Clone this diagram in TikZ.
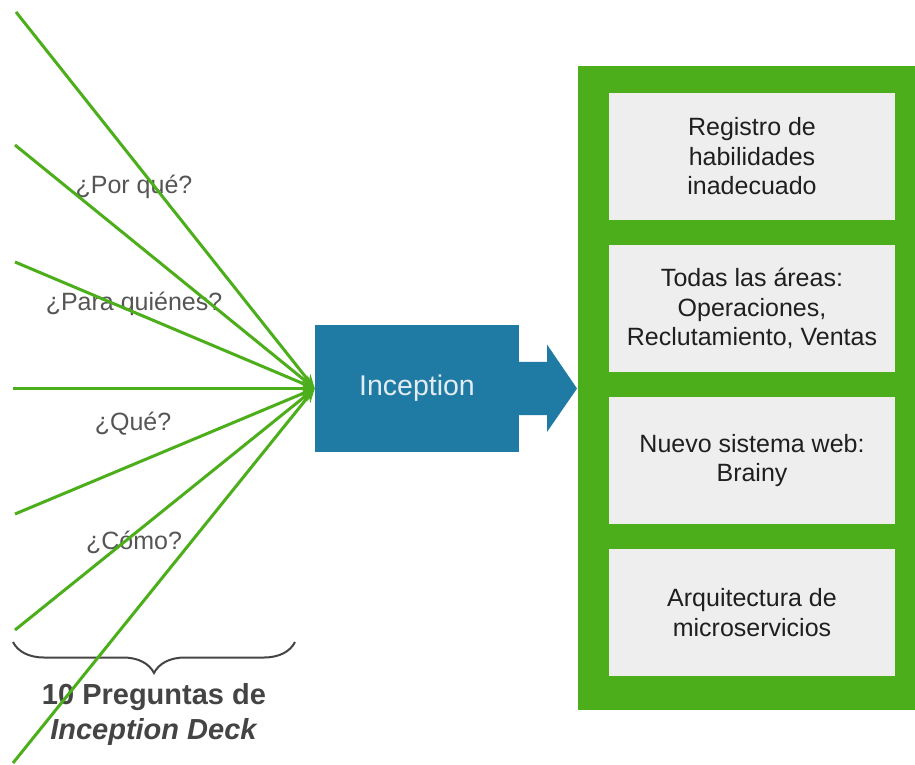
\documentclass[tikz,border=0pt]{standalone}
\usepackage{fontspec}
\setmainfont{Liberation Sans}
\usetikzlibrary{arrows.meta,decorations.pathreplacing}
\definecolor{lgreen}{RGB}{76,174,26}
\definecolor{iblue}{RGB}{31,123,164}
\definecolor{boxgray}{RGB}{238,238,238}
\definecolor{labgray}{RGB}{85,85,85}
\definecolor{bracegray}{RGB}{68,68,68}
\definecolor{inctext}{RGB}{226,236,242}
\tikzset{
  ray/.style={draw=lgreen, line width=3pt, -{Stealth[length=14pt,width=11pt]}},
  qlabel/.style={text=labgray, font=\fontsize{25}{30}\selectfont, inner sep=0pt},
  itembox/.style={fill=boxgray, draw=none, minimum width=286, minimum height=127, inner sep=0pt,
    align=center, text=black!88, font=\fontsize{25}{29.5}\selectfont},
}
\begin{document}
\begin{tikzpicture}[x=1pt,y=-1pt]
\useasboundingbox (0,0) rectangle (915,765);
% green panel
\node (panel) [fill=lgreen, minimum width=338, minimum height=644, inner sep=0pt, anchor=north west] at (578,66) {};
\node (b1) [itembox] at (752,156.5) {Registro de\\habilidades\\inadecuado};
\node (b2) [itembox] at (752,308.5) {Todas las áreas:\\Operaciones,\\Reclutamiento, Ventas};
\node (b3) [itembox] at (752,460.5) {Nuevo sistema web:\\Brainy};
\node (b4) [itembox] at (752,612.5) {Arquitectura de\\microservicios};
% inception shape
\node (inc) [fill=iblue, minimum width=204, minimum height=127, inner sep=0pt] at (417,388.5) {};
\fill[iblue] ([yshift=-1pt]inc.north east) ++(0,36) -- ++(28,0) -- ++(0,-17) -- (577,388.5) -- (547,432) -- (547,415) -- (518,415) -- cycle;
\node (inctxt) [text=inctext, font=\fontsize{28.5}{32}\selectfont] at (417,388.5) {Inception};
% labels
\node (q1) [qlabel] at (134,187) {¿Por qué?};
\node (q2) [qlabel] at (134,304) {¿Para quiénes?};
\node (q3) [qlabel] at (133,424) {¿Qué?};
\node (q4) [qlabel] at (134,542) {¿Cómo?};
% brace
\coordinate (br) at (295,642);
\coordinate (bl) at (13,642);
\draw[bracegray, line width=2pt, decorate, decoration={brace, amplitude=31pt}] (br) -- (bl);
\node (cap) [text=bracegray, font=\fontsize{29}{35}\selectfont\bfseries, align=center, inner sep=0pt] at (154,714) {10 Preguntas de\\\textit{Inception Deck}};
% rays
\coordinate (s1) at (16,12);
\coordinate (s2) at (15,145);
\coordinate (s3) at (15,262);
\coordinate (s4) at (13,388.5);
\coordinate (s5) at (15,514);
\coordinate (s6) at (15,630);
\coordinate (s7) at (13,763);
\foreach \s in {s1,s2,s3,s4,s5,s6,s7} \draw[ray] (\s) -- (inc.west);
\end{tikzpicture}
\end{document}
